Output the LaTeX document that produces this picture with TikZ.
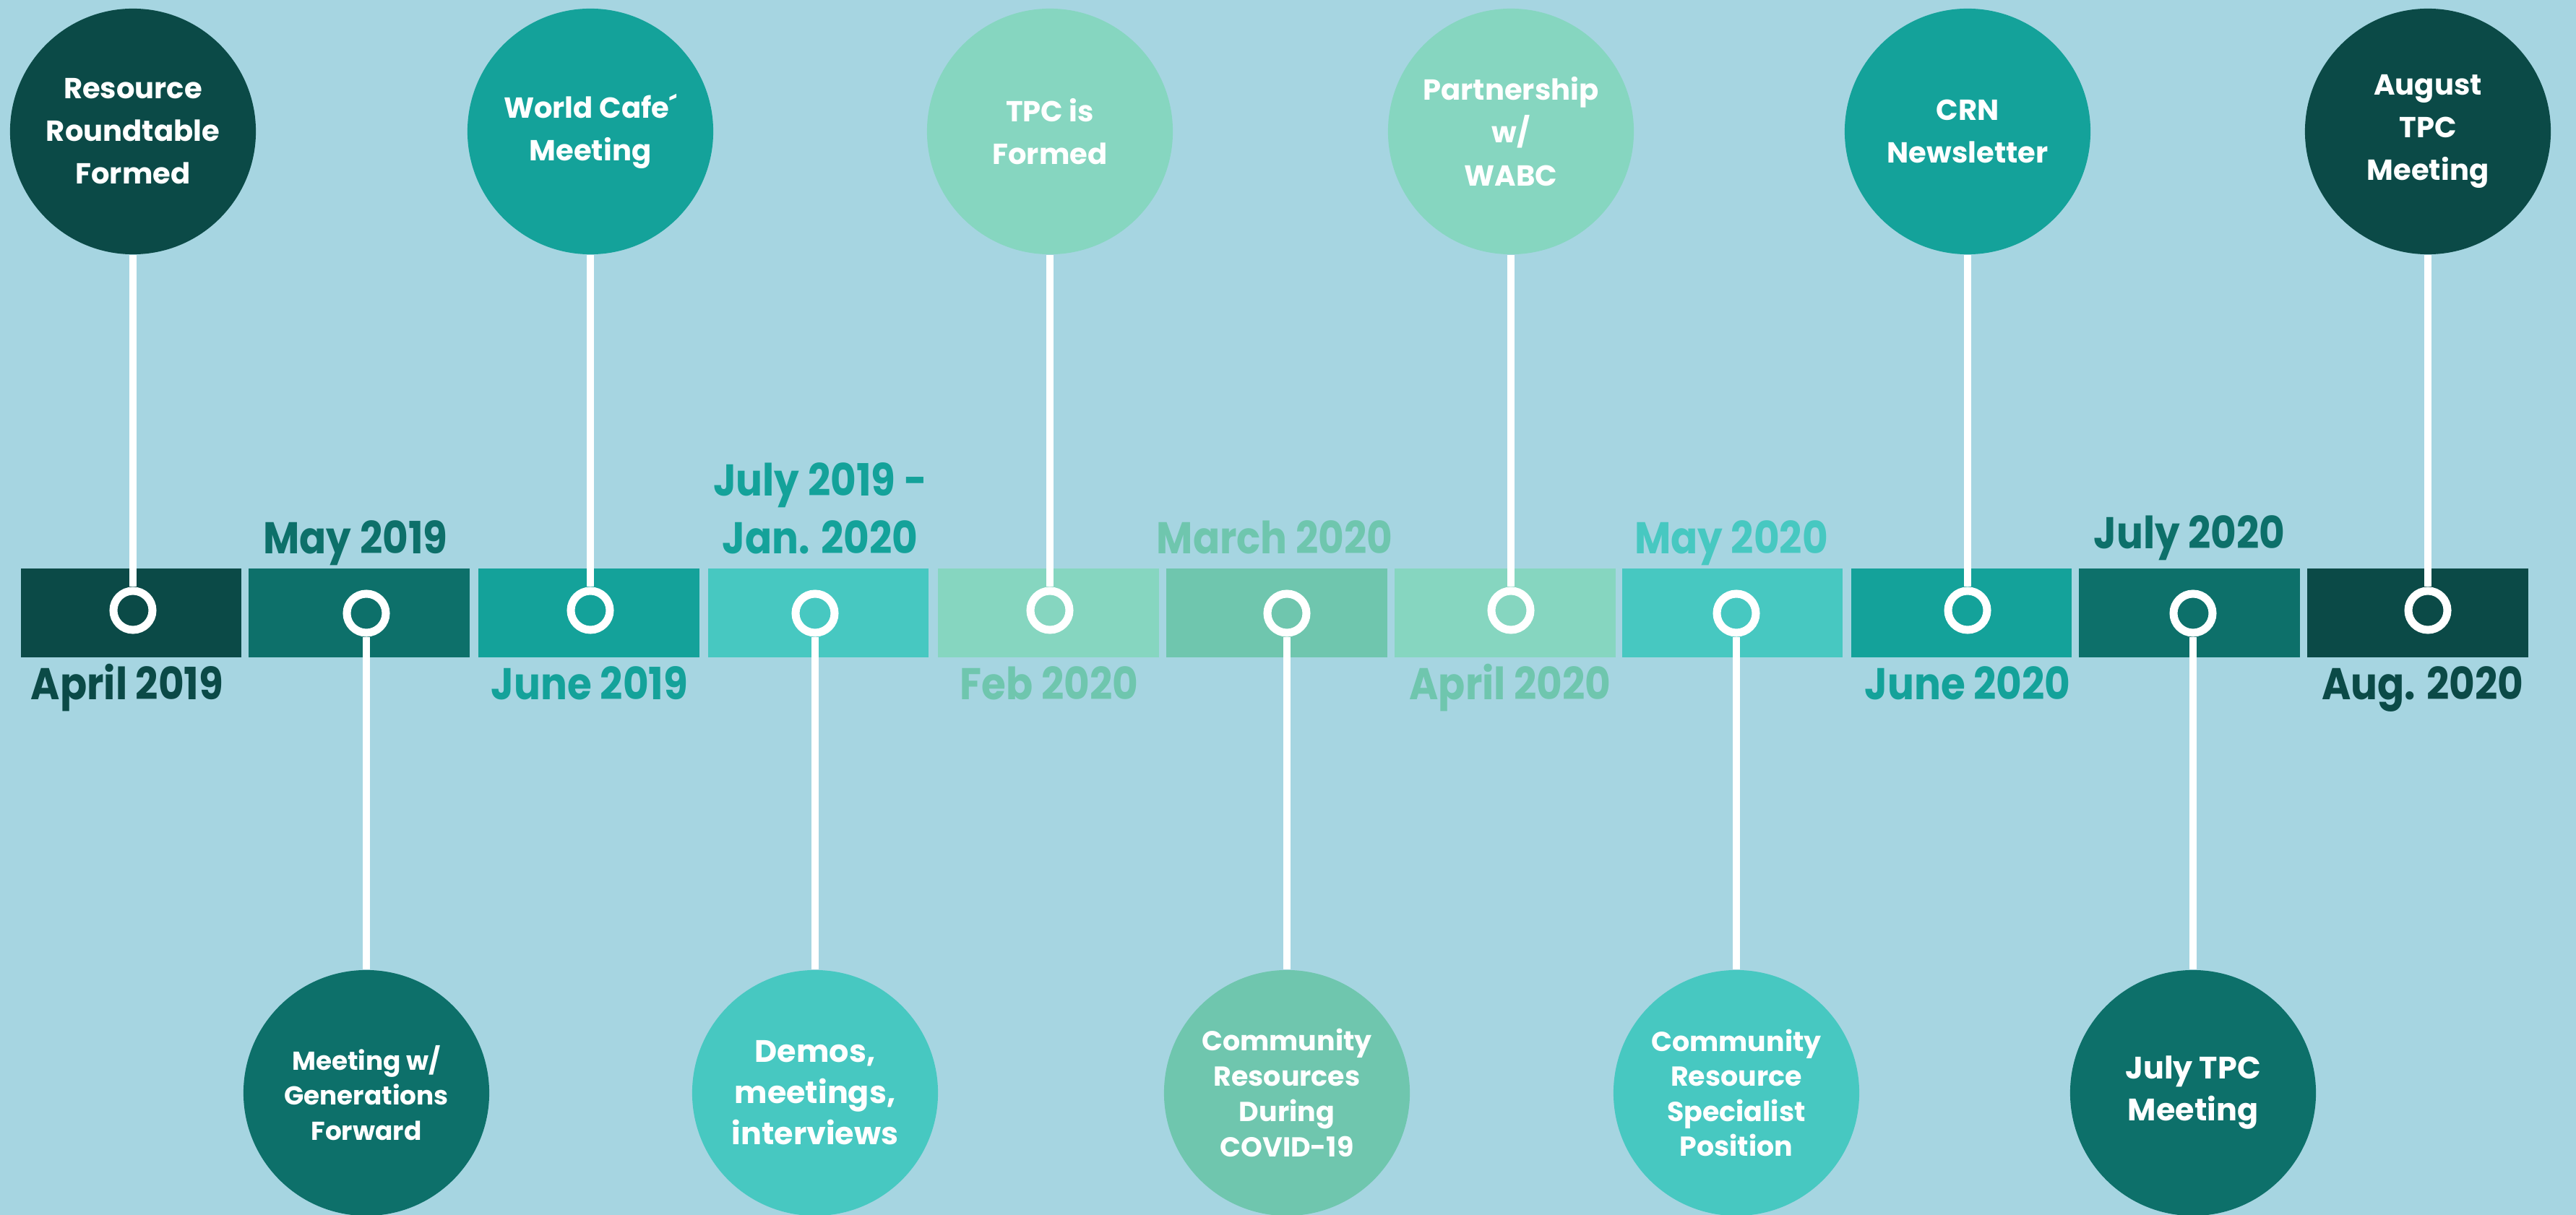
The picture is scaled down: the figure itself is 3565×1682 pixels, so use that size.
\documentclass[tikz,border=0pt]{standalone}
\usepackage{fontspec}
\setmainfont{Poppins}
\newfontfamily\datefont{Poppins}[FakeStretch=0.89]
\definecolor{bg}{HTML}{A6D5E1}
\definecolor{cdark}{HTML}{0B4A47}
\definecolor{cteal}{HTML}{0D706A}
\definecolor{cmid}{HTML}{14A29A}
\definecolor{cturq}{HTML}{47C8C1}
\definecolor{cmint}{HTML}{86D6C0}
\definecolor{cmintd}{HTML}{6FC6AE}
\begin{document}
\begin{tikzpicture}[x=0.01cm,y=-0.01cm,
  event/.style={circle, fill=#1, minimum size=3.4cm, inner sep=0pt, text=white, align=center, font=\bfseries\fontsize{11.4}{16.8}\selectfont},
  ring/.style={circle, draw=white, line width=0.11cm, fill=#1, minimum size=0.54cm, inner sep=0pt},
  stem/.style={draw=white, line width=0.1cm},
  datelbl/.style={text=#1, anchor=base, inner sep=0pt, align=center, font=\datefont\bfseries\fontsize{17.5}{22.5}\selectfont}]
\fill[bg] (0,0) rectangle (3565,1682);
\useasboundingbox (0,0) rectangle (3565,1682);
% bars
\fill[cdark]  (29,787) rectangle (334,910);
\fill[cteal]  (344,787) rectangle (650,910);
\fill[cmid]   (662,787) rectangle (968,910);
\fill[cturq]  (980,787) rectangle (1285,910);
\fill[cmint]  (1298,787) rectangle (1604,910);
\fill[cmintd] (1614,787) rectangle (1920,910);
\fill[cmint]  (1930,787) rectangle (2236,910);
\fill[cturq]  (2245,787) rectangle (2550,910);
\fill[cmid]   (2562,787) rectangle (2867,910);
\fill[cteal]  (2877,787) rectangle (3183,910);
\fill[cdark]  (3193,787) rectangle (3499,910);
% rings
\node[ring=cdark]  (r1)  at (184,845) {};
\node[ring=cteal]  (r2)  at (507,849) {};
\node[ring=cmid]   (r3)  at (817,845) {};
\node[ring=cturq]  (r4)  at (1128,849) {};
\node[ring=cmint]  (r5)  at (1453,845) {};
\node[ring=cmintd] (r6)  at (1781,849) {};
\node[ring=cmint]  (r7)  at (2091,845) {};
\node[ring=cturq]  (r8)  at (2403,849) {};
\node[ring=cmid]   (r9)  at (2723,845) {};
\node[ring=cteal]  (r10) at (3035,849) {};
\node[ring=cdark]  (r11) at (3360,845) {};
% top events
\node[event=cdark] (t1) at (184,182) {Resource\\Roundtable\\Formed};
\node[event=cmid]  (t2) at (817,182) {World Cafe´\\Meeting};
\node[event=cmint] (t3) at (1453,182) {TPC is\\Formed};
\node[event=cmint] (t4) at (2091,182) {Partnership\\w/\\WABC};
\node[event=cmid]  (t5) at (2723,182) {CRN\\Newsletter};
\node[event=cdark] (t6) at (3360,182) {August\\TPC\\Meeting};
% bottom events
\node[event=cteal, font=\bfseries\fontsize{10.2}{13.7}\selectfont] (b1) at (507,1513) {Meeting w/\\Generations\\Forward};
\node[event=cturq, font=\bfseries\fontsize{12.2}{16.2}\selectfont] (b2) at (1128,1513) {Demos,\\meetings,\\interviews};
\node[event=cmintd, font=\bfseries\fontsize{10.8}{14}\selectfont] (b3) at (1781,1513) {Community\\Resources\\During\\COVID-19};
\node[event=cturq, font=\bfseries\fontsize{10.8}{13.7}\selectfont] (b4) at (2403,1513) {Community\\Resource\\Specialist\\Position};
\node[event=cteal, font=\bfseries\fontsize{12.2}{16.5}\selectfont] (b5) at (3035,1513) {July TPC\\Meeting};
% stems
\draw[stem] (t1.south) -- (r1.north);
\draw[stem] (t2.south) -- (r3.north);
\draw[stem] (t3.south) -- (r5.north);
\draw[stem] (t4.south) -- (r7.north);
\draw[stem] (t5.south) -- (r9.north);
\draw[stem] (t6.south) -- (r11.north);
\draw[stem] (r2.south) -- (b1.north);
\draw[stem] (r4.south) -- (b2.north);
\draw[stem] (r6.south) -- (b3.north);
\draw[stem] (r8.south) -- (b4.north);
\draw[stem] (r10.south) -- (b5.north);
% date labels
\node[datelbl=cdark]  (d1)  at (176,968) {April 2019};
\node[datelbl=cteal]  (d2)  at (492,766) {May 2019};
\node[datelbl=cmid]   (d3)  at (816,968) {June 2019};
\node[datelbl=cmid]   (d4)  at (1135,766) {July 2019 -\\Jan. 2020};
\node[datelbl=cmintd] (d5)  at (1452,968) {Feb 2020};
\node[datelbl=cmintd] (d6)  at (1764,766) {March 2020};
\node[datelbl=cmintd] (d7)  at (2090,968) {April 2020};
\node[datelbl=cturq]  (d8)  at (2396,766) {May 2020};
\node[datelbl=cmid]   (d9)  at (2723,968) {June 2020};
\node[datelbl=cteal]  (d10) at (3030,759) {July 2020};
\node[datelbl=cdark]  (d11) at (3353,968) {Aug. 2020};
\end{tikzpicture}
\end{document}
